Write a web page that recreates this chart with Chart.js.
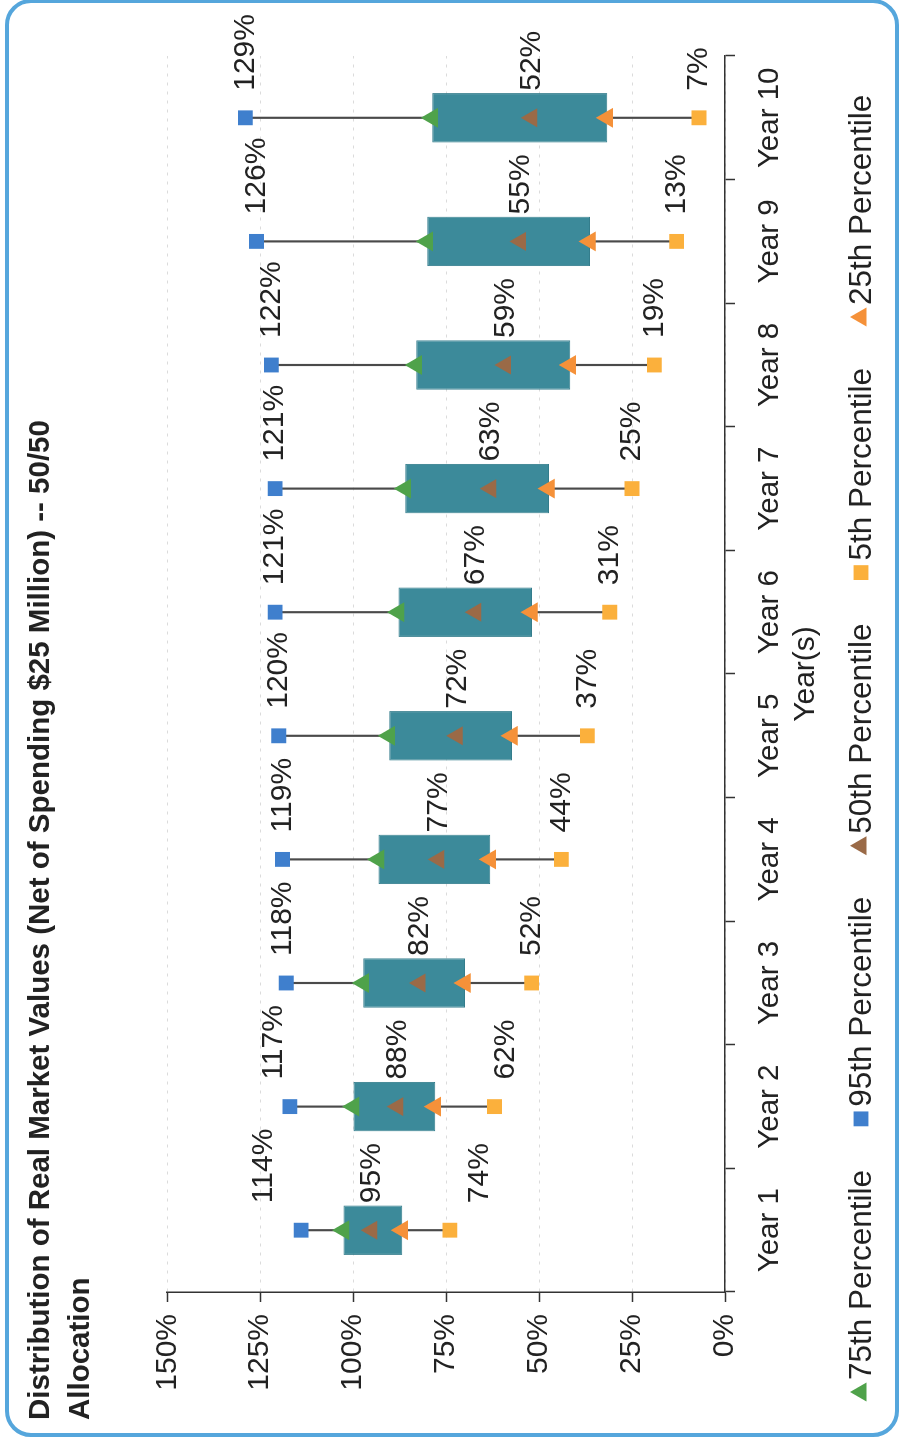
<!DOCTYPE html>
<html>
<head>
<meta charset="utf-8">
<script src="https://cdn.jsdelivr.net/npm/chart.js@4.4.1/dist/chart.umd.min.js"></script>
<style>
  html, body { margin: 0; padding: 0; background: #fff; overflow: hidden; width: 900px; height: 1447px; }
  /* the chart is laid out landscape and turned a quarter turn to fit the portrait page */
  #page { position: absolute; left: 0; top: 0; width: 1447px; height: 900px;
          transform-origin: 0 0; transform: translateY(1447px) rotate(-90deg); }
  #frame { position: absolute; left: 5px; top: -1px; width: 894px; height: 1438px;
           box-sizing: border-box; border: 4px solid #55a6dc; border-radius: 26px; pointer-events: none; }
</style>
</head>
<body>
<div id="page"><canvas id="c" width="1447" height="900"></canvas></div>
<div id="frame"></div>
<script>
// Distribution of real market values by year (% of starting value)
const years = ['Year 1', 'Year 2', 'Year 3', 'Year 4', 'Year 5', 'Year 6', 'Year 7', 'Year 8', 'Year 9', 'Year 10'];
const p95 = [114, 117, 118, 119, 120, 121, 121, 122, 126, 129];
const p75 = [102.6, 99.9, 97.3, 93.2, 90.3, 87.8, 86.0, 83.0, 80.1, 78.7];
const p50 = [95, 88, 82, 77, 72, 67, 63, 59, 55, 52];
const p25 = [86.8, 77.9, 69.9, 63.1, 57.3, 51.9, 47.3, 41.6, 36.3, 31.7];
const p5  = [74, 62, 52, 44, 37, 31, 25, 19, 13, 7];
const legendOrder = ['75th Percentile', '95th Percentile', '50th Percentile', '5th Percentile', '25th Percentile'];

const FONT = '"Liberation Sans", Arial, Helvetica, sans-serif';
const TEXT = '#222';
const C95 = '#3f7fcd', C75 = '#4fa24a', C50 = '#9a6a47', C25 = '#f59139', C5 = '#fbb03c';
const BOX = '#3c8a9a', WHISKER = '#4a4a4a';

Chart.defaults.font.family = FONT;
Chart.defaults.color = TEXT;

// percentage labels beside the 95th, 50th and 5th percentile markers;
// short whiskers push the outer labels clear of the box and the median label
const valueLabels = {
  id: 'valueLabels',
  afterDatasetsDraw(chart) {
    const { ctx, scales: { x, y } } = chart;
    ctx.save();
    ctx.font = '30px ' + FONT;
    ctx.fillStyle = TEXT;
    ctx.textAlign = 'left';
    ctx.textBaseline = 'middle';
    years.forEach((_, i) => {
      const px = x.getPixelForValue(i) + 27;
      const yMid = y.getPixelForValue(p50[i]);
      const yTop = Math.min(y.getPixelForValue(p95[i]), y.getPixelForValue(p75[i]) - 80);
      const yLow = Math.max(y.getPixelForValue(p5[i]), yMid + 108);
      ctx.fillText(p95[i] + '%', px, yTop);
      ctx.fillText(p50[i] + '%', px, yMid);
      ctx.fillText(p5[i] + '%', px, yLow);
    });
    ctx.restore();
  }
};

// single-row legend along the bottom edge
const bottomLegend = {
  id: 'bottomLegend',
  afterDraw(chart) {
    const { ctx } = chart;
    const yc = 861;
    let xc = 55;
    ctx.save();
    ctx.font = '31.5px ' + FONT;
    ctx.textAlign = 'left';
    ctx.textBaseline = 'middle';
    legendOrder.forEach(name => {
      const ds = chart.data.datasets.find(d => d.label === name);
      const r = ds.pointStyle === 'rect' ? 10.5 : 11;
      ctx.fillStyle = ds.backgroundColor;
      ctx.strokeStyle = ds.backgroundColor;
      Chart.helpers.drawPoint(ctx, { pointStyle: ds.pointStyle, radius: r, borderWidth: 0, rotation: 0 }, xc, yc);
      ctx.fillStyle = TEXT;
      const tx = xc + 12;
      ctx.fillText(name, tx, yc + 1);
      xc = tx + ctx.measureText(name).width + 51;
    });
    ctx.restore();
  }
};

const marker = (label, data, style, color, radius) => ({
  type: 'line', label, data, showLine: false, pointStyle: style,
  pointRadius: radius, pointHoverRadius: radius, pointBorderWidth: 0,
  backgroundColor: color, borderColor: color, order: 1
});

new Chart(document.getElementById('c'), {
  type: 'bar',
  data: {
    labels: years,
    datasets: [
      marker('95th Percentile', p95, 'rect', C95, 10.5),
      marker('5th Percentile', p5, 'rect', C5, 10.5),
      marker('75th Percentile', p75, 'triangle', C75, 11.5),
      marker('25th Percentile', p25, 'triangle', C25, 11.5),
      marker('50th Percentile', p50, 'triangle', C50, 11),
      {
        type: 'bar', label: 'Interquartile range',
        data: years.map((_, i) => [p25[i], p75[i]]),
        backgroundColor: BOX, borderColor: '#347d8c', borderWidth: 1, borderSkipped: false,
        barPercentage: 0.4, categoryPercentage: 1, grouped: false, order: 2
      },
      {
        type: 'bar', label: 'Range',
        data: years.map((_, i) => [p5[i], p95[i]]),
        backgroundColor: WHISKER, barThickness: 1.5, grouped: false, order: 3
      }
    ]
  },
  options: {
    responsive: false,
    animation: false,
    layout: { padding: { left: 27, right: 56, top: 0, bottom: 70 } },
    plugins: {
      legend: { display: false },
      tooltip: { enabled: false },
      title: {
        display: true,
        align: 'start',
        text: ['Distribution of Real Market Values (Net of Spending $25 Million) -- 50/50', 'Allocation'],
        font: { size: 29.5, weight: 'bold', lineHeight: 1.36 },
        color: TEXT,
        padding: { top: 21, bottom: 66 }
      }
    },
    scales: {
      x: {
        offset: true,
        grid: { offset: true, drawOnChartArea: false, drawTicks: true, tickLength: 10, tickColor: '#333', tickWidth: 1.5 },
        border: { display: true, color: '#333', width: 1.5 },
        ticks: { font: { size: 29.5 }, color: TEXT, padding: 17, maxRotation: 0, autoSkip: false },
        title: { display: true, text: 'Year(s)', font: { size: 30 }, color: TEXT, padding: { top: 0, bottom: 6 } },
        afterFit(s) { s.height = 105; }
      },
      y: {
        min: 0, max: 150,
        ticks: { stepSize: 25, callback: v => v + '%', font: { size: 30 }, color: TEXT, padding: 12 },
        grid: { color: 'rgba(0,0,0,0.14)', lineWidth: 1, tickColor: '#333', tickLength: 10, tickWidth: 1.5, tickBorderDash: [] },
        border: { display: true, color: '#333', width: 1.5, dash: [3, 6] },
        afterFit(s) { s.width = 128; }
      }
    }
  },
  plugins: [valueLabels, bottomLegend]
});
</script>
</body>
</html>
